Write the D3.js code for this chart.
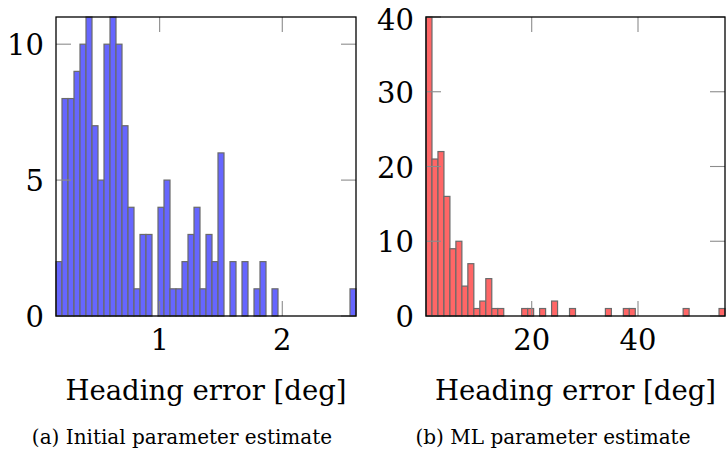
<!DOCTYPE html>
<html lang="en">
<head>
  <meta charset="UTF-8" />
  <title>Heading error histograms</title>
  <script src="https://d3js.org/d3.v7.min.js"></script>
  <style>
    body {
      margin: 0;
      background: #fff;
    }
    svg text {
      font-family: "DejaVu Serif", serif;
      fill: #000;
    }
    .tick-label { font-size: 29px; }
    .axis-label { font-size: 27.5px; }
    .caption { font-size: 20px; }
  </style>
</head>
<body>
  <svg id="chart" width="726" height="450"></svg>

  <script>
    // (a) Initial parameter estimate: 50 bins between min and max error
    const initRange = [0.155, 2.601];
    const initCounts = [2, 8, 8, 9, 10, 11, 7, 5, 10, 11,
                        10, 7, 4, 1, 3, 3, 0, 4, 5, 1,
                        1, 2, 3, 4, 1, 3, 2, 6, 0, 2,
                        0, 2, 0, 1, 2, 0, 1, 0, 0, 0,
                        0, 0, 0, 0, 0, 0, 0, 0, 0, 1];
    const initXTicks = [1, 2];
    const initYTicks = [0, 5, 10];

    // (b) ML parameter estimate
    const mlRange = [0.11, 56.37];
    const mlCounts = [40, 21, 22, 16, 9, 10, 4, 7, 1, 2,
                      5, 1, 1, 0, 0, 0, 1, 1, 0, 1,
                      0, 2, 0, 0, 1, 0, 0, 0, 0, 0,
                      1, 0, 0, 1, 1, 0, 0, 0, 0, 0,
                      0, 0, 0, 1, 0, 0, 0, 0, 0, 1];
    const mlXTicks = [20, 40];
    const mlYTicks = [0, 10, 20, 30, 40];

    const svg = d3.select("#chart");
    const plotTop = 17, plotBottom = 316, tickLen = 15;

    function histogram(opts) {
      const g = svg.append("g");
      const x = d3.scaleLinear().domain(opts.range).range([opts.left, opts.right]);
      const y = d3.scaleLinear().domain([0, opts.ymax]).range([plotBottom, plotTop]);

      const n = opts.counts.length;
      const step = (opts.range[1] - opts.range[0]) / n;
      const bins = opts.counts.map((c, i) => ({
        x0: opts.range[0] + i * step,
        x1: opts.range[0] + (i + 1) * step,
        count: c
      }));

      g.selectAll("rect.bar")
        .data(bins.filter(d => d.count > 0))
        .join("rect")
        .attr("class", "bar")
        .attr("x", d => x(d.x0))
        .attr("y", d => y(d.count))
        .attr("width", d => x(d.x1) - x(d.x0))
        .attr("height", d => y(0) - y(d.count))
        .attr("fill", opts.fill)
        .attr("stroke", "#6a6a6a")
        .attr("stroke-width", 1.2);

      // ticks inside, mirrored on top and right
      const tickStyle = sel => sel.attr("stroke", "#8c8c8c").attr("stroke-width", 1.1);
      opts.xTicks.forEach(t => {
        tickStyle(g.append("line")
          .attr("x1", x(t)).attr("x2", x(t))
          .attr("y1", plotBottom).attr("y2", plotBottom - tickLen));
        tickStyle(g.append("line")
          .attr("x1", x(t)).attr("x2", x(t))
          .attr("y1", plotTop).attr("y2", plotTop + tickLen));
        g.append("text")
          .attr("class", "tick-label")
          .attr("x", x(t))
          .attr("y", 350)
          .attr("text-anchor", "middle")
          .text(t);
      });
      opts.yTicks.forEach(t => {
        tickStyle(g.append("line")
          .attr("x1", opts.left).attr("x2", opts.left + tickLen)
          .attr("y1", y(t)).attr("y2", y(t)));
        tickStyle(g.append("line")
          .attr("x1", opts.right).attr("x2", opts.right - tickLen)
          .attr("y1", y(t)).attr("y2", y(t)));
        g.append("text")
          .attr("class", "tick-label")
          .attr("x", opts.left - 12)
          .attr("y", Math.max(y(t) + 11, 30))
          .attr("text-anchor", "end")
          .text(t);
      });

      g.append("rect")
        .attr("x", opts.left)
        .attr("y", plotTop)
        .attr("width", opts.right - opts.left)
        .attr("height", plotBottom - plotTop)
        .attr("fill", "none")
        .attr("stroke", "#000")
        .attr("stroke-width", 1.3);

      g.append("text")
        .attr("class", "axis-label")
        .attr("x", (opts.left + opts.right) / 2)
        .attr("y", 400)
        .attr("text-anchor", "middle")
        .text("Heading error [deg]");

      g.append("text")
        .attr("class", "caption")
        .attr("x", opts.captionX)
        .attr("y", 444)
        .attr("text-anchor", "middle")
        .text(opts.caption);
    }

    histogram({
      left: 56, right: 356, range: initRange, ymax: 11,
      counts: initCounts, xTicks: initXTicks, yTicks: initYTicks,
      fill: "#6666ff", caption: "(a) Initial parameter estimate", captionX: 182
    });

    histogram({
      left: 426, right: 725, range: mlRange, ymax: 40,
      counts: mlCounts, xTicks: mlXTicks, yTicks: mlYTicks,
      fill: "#ff6666", caption: "(b) ML parameter estimate", captionX: 553
    });
  </script>
</body>
</html>
